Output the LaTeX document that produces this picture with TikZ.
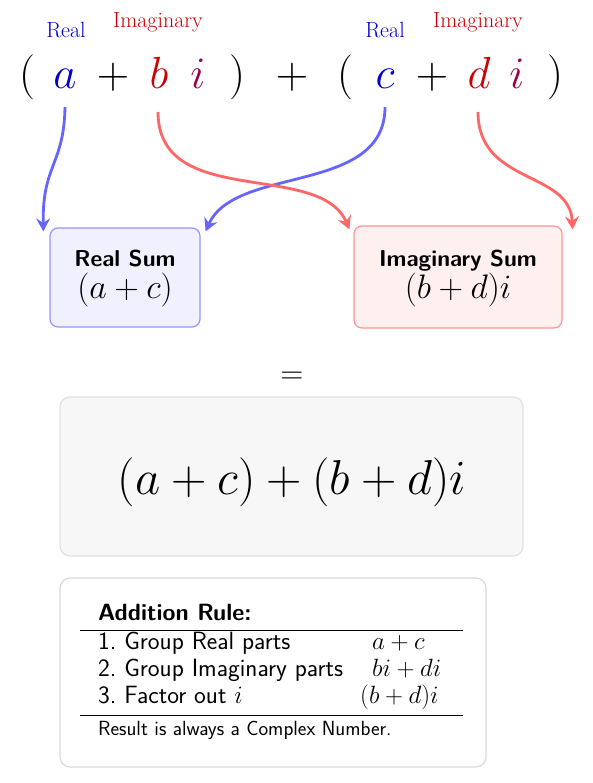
\documentclass[tikz,border=0pt]{standalone}
\usepackage{fix-cm}
\usetikzlibrary{arrows.meta}
\definecolor{rblue}{rgb}{0,0,0.8}
\definecolor{rred}{rgb}{0.8,0,0}
\definecolor{rpurp}{rgb}{0.6,0,0.3}
\definecolor{ablue}{rgb}{0.4,0.4,1}
\definecolor{ared}{rgb}{1,0.4,0.4}
\newcommand{\fsz}[1]{\fontsize{#1}{1.2\dimexpr#1pt\relax}\selectfont}
\tikzset{
  sym/.style={anchor=base, inner sep=0pt, font=\fsz{45}},
  lbl/.style={anchor=base, inner sep=0pt, font=\fsz{22}},
  conn/.style={line width=2.8pt, -{Stealth[length=13pt,width=14pt,inset=4.5pt]}},
  sumbox/.style={rounded corners=8pt, line width=1.2pt},
  boxttl/.style={anchor=base, inner sep=0pt, font=\fsz{23}\sffamily\bfseries},
  boxmath/.style={anchor=base, inner sep=0pt, font=\fsz{34}},
  row/.style={anchor=base west, inner sep=0pt, font=\fsz{25}\sffamily},
  mrow/.style={anchor=base west, inner sep=0pt, font=\fsz{25}},
}
\begin{document}
\begin{tikzpicture}[x=1pt,y=-1pt]
\useasboundingbox (0,0) rectangle (592,783);
% top expression
\node[sym] (lp1) at (27,89) {$($};
\node[sym,text=rblue] (a) at (65,89) {$a$};
\node[sym] (p1) at (113,89) {$+$};
\node[sym,text=rred] (b) at (159,89) {$b$};
\node[sym,text=rpurp] (i1) at (198,89) {$i$};
\node[sym] (rp1) at (237,89) {$)$};
\node[sym] (pm) at (292,89) {$+$};
\node[sym] (lp2) at (345,89) {$($};
\node[sym,text=rblue] (c) at (385,89) {$c$};
\node[sym] (p2) at (432,89) {$+$};
\node[sym,text=rred] (d) at (479,89) {$d$};
\node[sym,text=rpurp] (i2) at (517,89) {$i$};
\node[sym] (rp2) at (555,89) {$)$};
% labels
\node[lbl,text=rblue] (la) at (66,38) {Real};
\node[lbl,text=rred] (lb) at (158,28) {Imaginary};
\node[lbl,text=rblue] (lc) at (385,38) {Real};
\node[lbl,text=rred] (ld) at (478,28) {Imaginary};
% sum boxes
\node[sumbox, draw=ablue!70, fill=blue!6, minimum width=150pt, minimum height=99pt] (rs) at (125,277.5) {};
\node[boxttl] (rst) at (125,266) {Real Sum};
\node[boxmath] (rsm) at (125,298) {$(a+c)$};
\node[sumbox, draw=ared!70, fill=red!6, minimum width=208pt, minimum height=102pt] (is) at (458,277) {};
\node[boxttl] (ist) at (458,266) {Imaginary Sum};
\node[boxmath] (ism) at (458,298) {$(b+d)i$};
% arrows
\coordinate (ra) at (65,107);
\coordinate (rb) at (158,112);
\coordinate (rc) at (385,107);
\coordinate (rd) at (478,112);
\draw[conn, ablue] (ra) .. controls (64,165) and (42,165) .. ([shift={(-6pt,-4pt)}]rs.north west);
\draw[conn, ablue] (rc) .. controls (385,195) and (235,165) .. ([shift={(5pt,-4pt)}]rs.north east);
\draw[conn, ared] (rb) .. controls (158,210) and (320,160) .. ([shift={(-4pt,-4pt)}]is.north west);
\draw[conn, ared] (rd) .. controls (478,185) and (570,170) .. ([shift={(10pt,-4pt)}]is.north east);
% equals
\node[sym, font=\fsz{32}] (eq) at (292,383) {$=$};
% result box
\node[rounded corners=10pt, draw=black!12, line width=1.2pt, fill=black!3, minimum width=463pt, minimum height=159pt] (res) at (291.5,476.5) {};
\node[sym, font=\fsz{49}] (rest) at (292,494) {$(a+c)+(b+d)i$};
% rule box
\draw[rounded corners=10pt, draw=black!15, line width=1.2pt, fill=white] (60,578) rectangle (486,767);
\node[row, font=\fsz{23.5}\sffamily\bfseries] (h) at (98,620) {Addition Rule:};
\draw[line width=0.8pt] (80,630) -- (463,630);
\node[row] (r1) at (98,649) {1.~Group Real parts};
\node[row] (r2) at (98,676) {2.~Group Imaginary parts};
\node[row] (r3) at (98,703) {3.~Factor out $i$};
\node[mrow] (m1) at (372,649) {$a+c$};
\node[mrow] (m2) at (372,676) {$bi+di$};
\node[mrow] (m3) at (360,703) {$(b+d)i$};
\draw[line width=0.8pt] (80,715) -- (463,715);
\node[row, font=\fsz{20.5}\sffamily] (ft) at (98,735) {Result is always a Complex Number.};
\end{tikzpicture}
\end{document}
